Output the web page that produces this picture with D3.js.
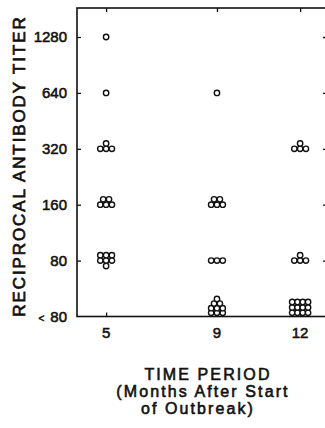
<!DOCTYPE html>
<html>
<head>
<meta charset="utf-8">
<script src="https://cdn.jsdelivr.net/npm/d3@7"></script>
<style>
  body { margin: 0; background: #fff; }
  svg { display: block; }
</style>
</head>
<body>
<div id="chart"></div>
<script>
// Antibody titer by time period (dot plot, one circle per person)

// Time periods (months after start of outbreak)
const months = [5, 9, 12];

// Titer levels, "< 80" is drawn on the bottom line (plotted as 40)
const titers = [40, 80, 160, 320, 640, 1280];
const titerLabels = ["80", "80", "160", "320", "640", "1280"];

// Number of people at each titer level, same order as titers
const countsMonth5 = [0, 7, 5, 4, 1, 1];
const countsMonth9 = [9, 3, 5, 0, 1, 0];
const countsMonth12 = [12, 4, 0, 4, 0, 0];

const xTitle = ["TIME PERIOD", "(Months After Start", "of Outbreak)"];
const yTitle = "RECIPROCAL ANTIBODY TITER";

// how the circles of one group get stacked (rows from bottom up)
const stacks = {
  1: { rows: [1], base: 0 },
  3: { rows: [3], base: 0 },
  4: { rows: [3, 1], base: 0 },
  5: { rows: [3, 2], base: 0 },
  7: { rows: [1, 3, 3], base: 1 },
  9: { rows: [3, 3, 2, 1], base: 0 },
  12: { rows: [4, 4, 4], base: 0 }
};

const width = 325, height = 428;
const margin = { top: 8, left: 77, bottom: 111.5, right: -2 };
const font = "'Liberation Sans', Arial, Helvetica, sans-serif";

const svg = d3.select("#chart")
  .append("svg")
  .attr("width", width)
  .attr("height", height);

// Scales
const x = d3.scaleLinear()
  .domain([3.95, 12.97])
  .range([margin.left, width - margin.right]);

const y = d3.scaleLog()
  .base(2)
  .domain([40, 1834])
  .range([height - margin.bottom, margin.top]);

// Axes (ticks point inwards on all four sides)
svg.append("g")
  .attr("transform", `translate(${margin.left},0)`)
  .call(d3.axisRight(y).tickValues(titers.slice(1)).tickSize(4).tickFormat(""))
  .call(g => g.select(".domain").remove());

svg.append("g")
  .attr("transform", `translate(${width - margin.right},0)`)
  .call(d3.axisLeft(y).tickValues(titers.slice(1)).tickSize(4).tickFormat(""))
  .call(g => g.select(".domain").remove());

svg.append("g")
  .attr("transform", `translate(0,${margin.top})`)
  .call(d3.axisBottom(x).tickValues(months).tickSize(4).tickFormat(""))
  .call(g => g.select(".domain").remove());

svg.append("g")
  .attr("transform", `translate(0,${height - margin.bottom})`)
  .call(d3.axisTop(x).tickValues(months).tickSize(4).tickFormat(""))
  .call(g => g.select(".domain").remove());

svg.selectAll(".tick line")
  .attr("stroke", "#111")
  .attr("stroke-width", 1.3);

// frame
svg.append("rect")
  .attr("x", margin.left)
  .attr("y", margin.top)
  .attr("width", width - margin.right - margin.left)
  .attr("height", height - margin.bottom - margin.top)
  .attr("fill", "none")
  .attr("stroke", "#111")
  .attr("stroke-width", 1.6);

// Y tick labels
const yLab = svg.append("g")
  .attr("font-family", font)
  .attr("font-size", 15)
  .attr("fill", "#111")
  .attr("stroke", "#111")
  .attr("stroke-width", 0.55);

titers.forEach((t, i) => {
  const txt = yLab.append("text")
    .attr("x", 67)
    .attr("y", y(t))
    .attr("dy", "0.36em")
    .attr("text-anchor", "end");
  if (i === 0) {
    txt.append("tspan").attr("font-size", 10).text("<");
    txt.append("tspan").attr("dx", 6).text(titerLabels[i]);
  } else {
    txt.text(titerLabels[i]);
  }
});

// X tick labels
svg.append("g")
  .attr("font-family", font)
  .attr("font-size", 15)
  .attr("fill", "#111")
  .attr("stroke", "#111")
  .attr("stroke-width", 0.55)
  .selectAll("text")
  .data(months)
  .join("text")
    .attr("x", d => x(d))
    .attr("y", 338)
    .attr("text-anchor", "middle")
    .text(d => d);

// Axis titles
svg.append("text")
  .attr("transform", "translate(25,166) rotate(-90)")
  .attr("text-anchor", "middle")
  .attr("font-family", font)
  .attr("font-size", 17)
  .attr("letter-spacing", 1.9)
  .attr("fill", "#111")
  .attr("stroke", "#111")
  .attr("stroke-width", 0.7)
  .text(yTitle);

const xt = svg.append("g")
  .attr("font-family", font)
  .attr("font-size", 16)
  .attr("letter-spacing", 2.1)
  .attr("fill", "#111")
  .attr("stroke", "#111")
  .attr("stroke-width", 0.6)
  .attr("text-anchor", "middle");

xt.append("text").attr("x", 208).attr("y", 380).text(xTitle[0]);
xt.append("text").attr("x", 203).attr("y", 397).text(xTitle[1]);
xt.append("text").attr("x", 198).attr("y", 414).text(xTitle[2]);

// Build one record per circle
const r = 2.7;
const allCounts = [countsMonth5, countsMonth9, countsMonth12];
const dots = [];

months.forEach((m, mi) => {
  allCounts[mi].forEach((n, ti) => {
    if (n === 0) return;
    const s = stacks[n];
    const nRows = s.rows.length;
    const dy = nRows > 3 ? 4.6 : 5.4;
    const maxCols = d3.max(s.rows);
    const dx = maxCols > 3 ? 5.3 : 5.8;
    // groups below 80 rest on the bottom line
    const y0 = ti === 0 ? y(titers[ti]) - r - 1 : y(titers[ti]);
    s.rows.forEach((k, row) => {
      for (let j = 0; j < k; j++) {
        dots.push({
          cx: x(m) + (j - (k - 1) / 2) * dx,
          cy: y0 - (row - s.base) * dy
        });
      }
    });
  });
});

svg.append("g")
  .selectAll("circle")
  .data(dots)
  .join("circle")
    .attr("cx", d => d.cx)
    .attr("cy", d => d.cy)
    .attr("r", r)
    .attr("fill", "#fff")
    .attr("stroke", "#111")
    .attr("stroke-width", 1.4);
</script>
</body>
</html>
